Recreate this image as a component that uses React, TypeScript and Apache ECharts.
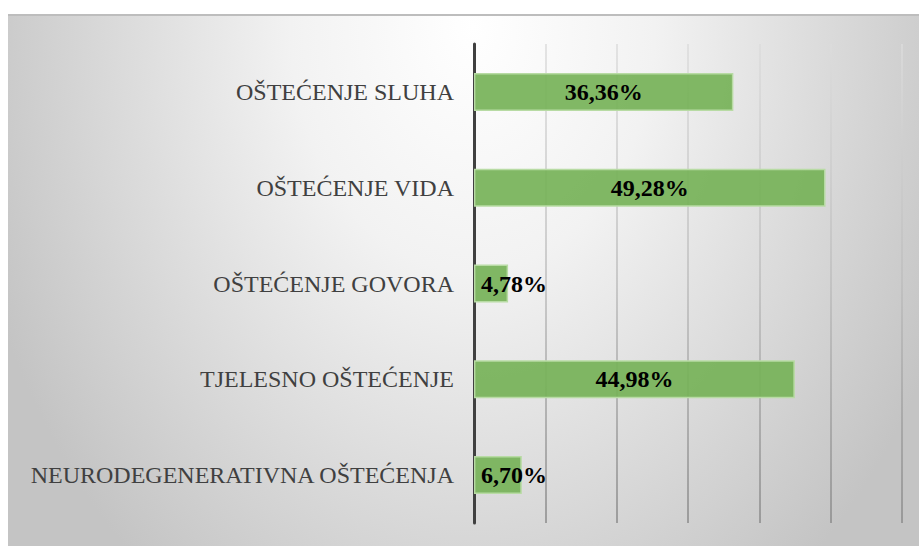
import React, { useEffect, useRef } from "react";
import * as echarts from "echarts";

const categories = [
  "OŠTEĆENJE SLUHA",
  "OŠTEĆENJE VIDA",
  "OŠTEĆENJE GOVORA",
  "TJELESNO OŠTEĆENJE",
  "NEURODEGENERATIVNA OŠTEĆENJA",
];
const values = [36.36, 49.28, 4.78, 44.98, 6.7];
const axisMax = 60;
const axisInterval = 10;

const fmt = (v: number) => v.toFixed(2).replace(".", ",") + "%";
const serif = "'Times New Roman', 'Liberation Serif', serif";

export default function App() {
  const ref = useRef<HTMLDivElement>(null);
  useEffect(() => {
    if (!ref.current) return;
    const chart = echarts.init(ref.current, undefined, { renderer: "svg" });
    const gridTop = 44;
    const gridBottomY = 523;
    chart.setOption({
      animation: false,
      backgroundColor: "transparent",
      grid: { left: 474, right: 17, top: gridTop, bottom: 546 - gridBottomY, containLabel: false },
      xAxis: {
        type: "value",
        min: 0,
        max: axisMax,
        interval: axisInterval,
        axisLabel: { show: false },
        axisLine: { show: false },
        axisTick: { show: false },
        splitLine: {
          show: true,
          lineStyle: {
            width: 1.5,
            color: new echarts.graphic.LinearGradient(
              0,
              gridTop,
              0,
              gridBottomY,
              [
                { offset: 0, color: "#dcdcdc" },
                { offset: 0.5, color: "#bdbdbd" },
                { offset: 1, color: "#8a8a8a" },
              ],
              true
            ),
          },
        },
      },
      yAxis: {
        type: "category",
        data: categories,
        inverse: true,
        axisLine: { show: true, lineStyle: { color: "#404040", width: 3 } },
        axisTick: { show: false },
        axisLabel: {
          margin: 20,
          color: "#404040",
          fontFamily: serif,
          fontSize: 24,
        },
        splitLine: { show: false },
      },
      series: [
        {
          type: "bar",
          barWidth: 38,
          itemStyle: {
            color: "rgba(118,178,88,0.92)",
            borderColor: "#b8dba4",
            borderWidth: 1.5,
          },
          data: values.map((v) => ({
            value: v,
            label:
              v < 10
                ? { position: "insideLeft", distance: 7 }
                : { position: "inside" },
          })),
          label: {
            show: true,
            formatter: (p: any) => fmt(p.value),
            color: "#000000",
            fontFamily: serif,
            fontWeight: "bold",
            fontSize: 24,
          },
        },
      ],
    });
    return () => chart.dispose();
  }, []);
  return (
    <div style={{ position: "absolute", left: 0, top: 0, width: 919, height: 546, background: "#ffffff" }}>
      <div
        style={{
          position: "absolute",
          left: 8,
          top: 14,
          width: 911,
          height: 532,
          borderTop: "2px solid #bdbdbd",
          boxSizing: "border-box",
          background:
            "radial-gradient(ellipse 520px 700px at 51% 2%, #ffffff 0%, #f2f2f2 35%, #c4c4c4 100%)",
        }}
      />
      <div ref={ref} style={{ position: "absolute", left: 0, top: 0, width: 919, height: 546 }} />
    </div>
  );
}
